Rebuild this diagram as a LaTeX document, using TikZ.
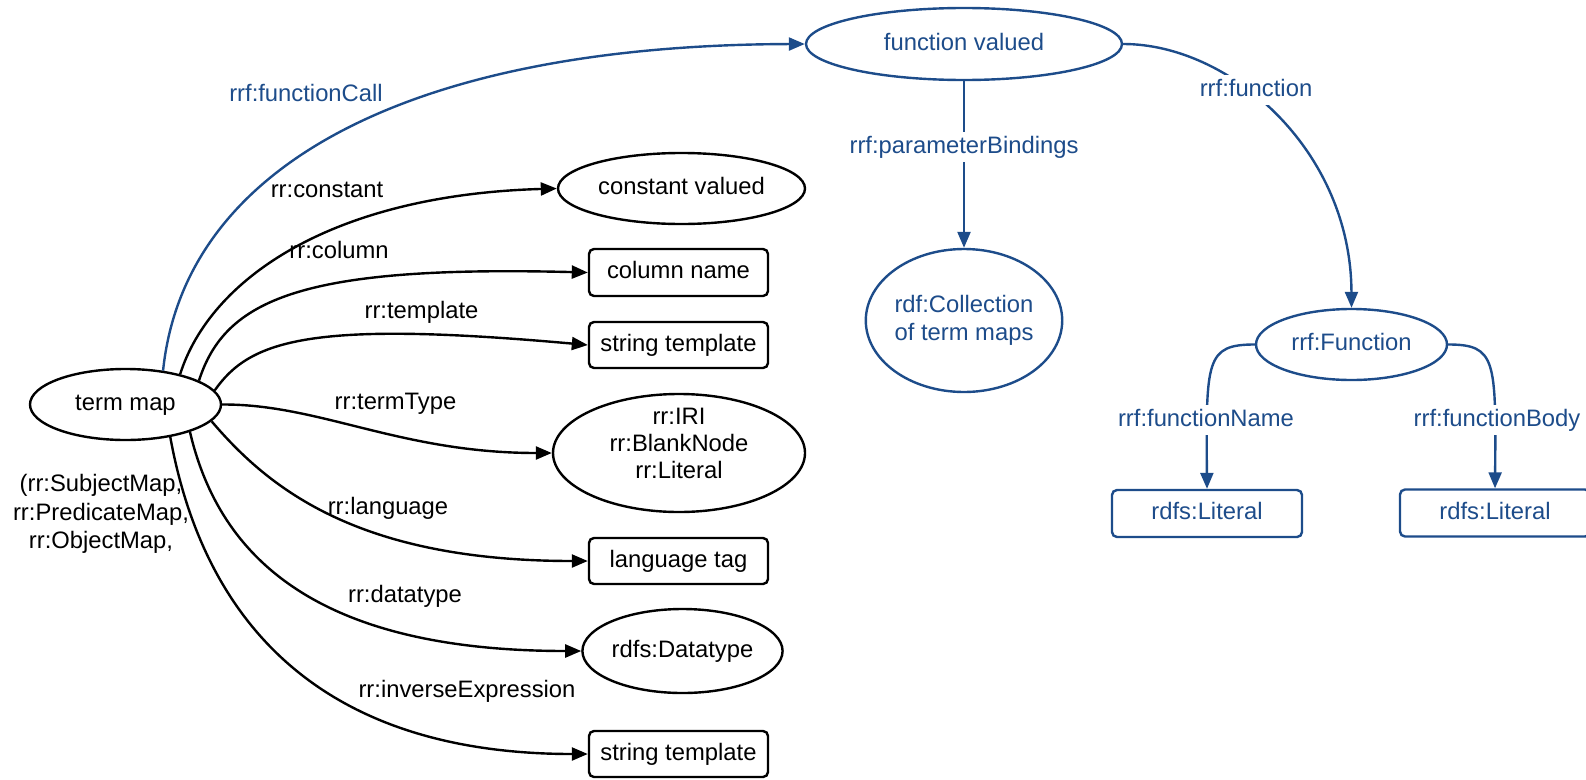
\documentclass[tikz,border=0pt]{standalone}
\usepackage{fontspec}
\setmainfont{Liberation Sans}
\usetikzlibrary{arrows.meta,shapes.geometric}
\definecolor{fblue}{RGB}{29,76,138}
\begin{document}
\begin{tikzpicture}[x=1pt,y=-1pt,
  every node/.style={font=\fontsize{23.8}{28}\selectfont, inner sep=0pt},
  ell/.style={ellipse, draw, line width=2.4pt, text height=17pt, text depth=5pt},
  mell/.style={ellipse, draw, line width=2.4pt, align=center},
  box/.style={rectangle, rounded corners=5pt, draw, line width=2.4pt, text height=17pt, text depth=5pt},
  conn/.style={line width=2.4pt, -{Triangle[length=16pt,width=13pt]}},
  bconn/.style={conn, draw=fblue},
  blu/.style={draw=fblue, text=fblue},
  lab/.style={text height=17pt, text depth=5pt, inner sep=4pt},
  blab/.style={lab, text=fblue, fill=white},
]
\useasboundingbox (0,0) rectangle (1586,779);

% nodes
\node[ell, minimum width=191pt, minimum height=71pt] (tm) at (125.5,404.5) {term map};
\node[ell, blu, minimum width=316pt, minimum height=72pt] (fv) at (964,44) {function valued};
\node[ell, minimum width=247pt, minimum height=71pt] (cv) at (681.5,188.5) {constant valued};
\node[box, minimum width=179pt, minimum height=47pt] (cn) at (678.5,272.5) {column name};
\node[box, minimum width=179pt, minimum height=46pt] (st1) at (678.5,345) {string template};
\node[mell, minimum width=252pt, minimum height=118pt] (tt) at (679,453)
  {\raisebox{7pt}[\height][\depth]{\fontsize{23.8}{26.7}\selectfont\begin{tabular}{@{}c@{}}rr:IRI\\rr:BlankNode\\rr:Literal\end{tabular}}};
\node[box, minimum width=179pt, minimum height=46pt] (lt) at (678.5,561) {language tag};
\node[ell, minimum width=195pt, minimum height=84pt] (dt) at (682.5,651) {rdfs:Datatype};
\node[box, minimum width=179pt, minimum height=46pt] (st2) at (678.5,754) {string template};
\node[mell, blu, minimum width=192pt, minimum height=143pt] (col) at (964,320.5) {rdf:Collection\\of term maps};
\node[ell, blu, minimum width=191pt, minimum height=71pt] (fn) at (1351.5,344.5) {rrf:Function};
\node[box, blu, minimum width=190pt, minimum height=47pt] (l1) at (1207,513.5) {rdfs:Literal};
\node[box, blu, minimum width=190pt, minimum height=47pt] (l2) at (1495,513) {rdfs:Literal};

% black connectors
\draw[conn] (tm.29) .. controls (210,280) and (330,195) .. (cv.west);
\draw[conn] (tm.18) .. controls (225,300) and (300,265) .. (cn.west);
\draw[conn] (tm.9) .. controls (250,340) and (310,320) .. (st1.west);
\draw[conn] (tm.east) .. controls (320,404) and (400,453) .. (tt.west);
\draw[conn] (tm.-11) .. controls (270,490) and (360,561) .. (lt.west);
\draw[conn] (tm.-23) .. controls (220,560) and (320,651) .. (dt.west);
\draw[conn] (tm.-36) .. controls (200,600) and (300,754) .. (st2.west);

% blue connectors
\draw[bconn] (tm.42) .. controls (185,160) and (420,45) .. (fv.west);
\draw[bconn] (fv.south) -- (col.north);
\draw[bconn] (fv.east) .. controls (1230,44) and (1351,150) .. (fn.north);
\draw[bconn] (fn.west) .. controls (1206,344.5) and (1206,360) .. (l1.north);
\draw[bconn] (fn.east) .. controls (1496,344.5) and (1496,360) .. (l2.north);

% labels
\node[lab, text=fblue] (lfc) at (306,95) {rrf:functionCall};
\node[lab] (lco) at (327,191) {rr:constant};
\node[lab] (lcl) at (339,252) {rr:column};
\node[lab] (ltp) at (421.5,312) {rr:template};
\node[lab] (ltt) at (395.5,403) {rr:termType};
\node[lab] (llg) at (388,508) {rr:language};
\node[lab] (ldt) at (405,596) {rr:datatype};
\node[lab] (lie) at (467,691) {rr:inverseExpression};
\node[align=center, font=\fontsize{23.8}{28.5}\selectfont] (lsub) at (101,514) {(rr:SubjectMap,\\rr:PredicateMap,\\rr:ObjectMap,};
\node[blab] (lpb) at (964,147) {rrf:parameterBindings};
\node[blab] (lfu) at (1256,90) {rrf:function};
\node[blab] (lfn) at (1206,420) {rrf:functionName};
\node[blab] (lfb) at (1497,420) {rrf:functionBody};
\end{tikzpicture}
\end{document}
